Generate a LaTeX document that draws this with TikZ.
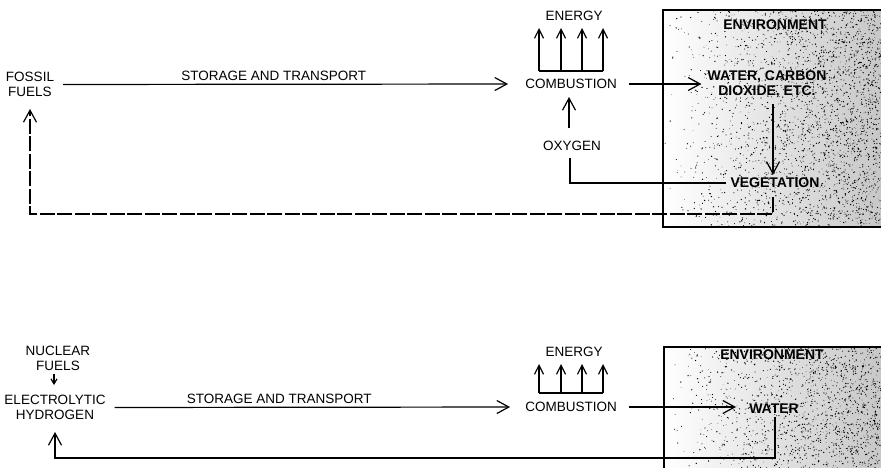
\documentclass[tikz,border=0pt]{standalone}
\usepackage{fontspec}
\setmainfont{Liberation Sans}
\usetikzlibrary{arrows.meta}
\begin{document}
\begin{tikzpicture}[x=1pt,y=-1pt,
  lbl/.style={font=\fontsize{13.5}{15}\selectfont, align=center, inner sep=2pt},
  blbl/.style={font=\fontsize{14}{15}\selectfont\bfseries, align=center, inner sep=2pt},
  ln/.style={line width=1.2pt},
  arr/.style={ln, -{Straight Barb[length=12pt,width=13pt]}},
  sarr/.style={ln, -{Straight Barb[length=9pt,width=9pt]}},
  tarr/.style={ln, -{Straight Barb[length=5pt,width=6pt]}},
  dsh/.style={dash pattern=on 15pt off 2.5pt},
]
\useasboundingbox (0,0) rectangle (881,468);
\pgfmathsetseed{7}
% ---------- environment boxes (stipple) ----------
\shade[left color=white, middle color=black!4, right color=black!22] (663,10) rectangle (881,227);
\fill[black] foreach \i in {1,...,2600} { ({663+218*sqrt(rnd)},{10+217*rnd}) circle[radius={0.3+0.45*rnd}] };
\draw[ln] (881,10) -| (663,227) -- (881,227);
\shade[left color=white, middle color=black!4, right color=black!22] (664,347) rectangle (881,468);
\fill[black] foreach \i in {1,...,1500} { ({664+217*sqrt(rnd)},{347+121*rnd}) circle[radius={0.3+0.45*rnd}] };
\draw[ln] (881,347) -| (664,468);

% ---------- top diagram ----------
\node[lbl] (fossil) at (30,84.5) {FOSSIL\\FUELS};
\node[lbl] (comb1) at (571,84) {COMBUSTION};
\node[lbl] (energy1) at (574,16) {ENERGY};
\node[lbl] (oxygen) at (572,146) {OXYGEN};
\node[blbl] (env1) at (775,25) {ENVIRONMENT};
\node[blbl] (water1) at (767,84.5) {WATER, CARBON\\DIOXIDE, ETC.};
\node[blbl] (veg) at (775,183) {VEGETATION};
\coordinate (c1) at (30,214);

\draw[arr, shorten <=7pt, shorten >=15pt] (fossil.east) -- node[lbl, above=1pt, pos=0.466] (st1) {STORAGE AND TRANSPORT} (comb1.west);
\draw[ln] (539,71) -- (603,71);
\foreach \x in {539,561,582,603} \draw[sarr] (\x,71) -- (\x,28);
\draw[arr, shorten <=10pt, shorten >=4pt] (comb1.east) -- (water1.west |- comb1.east);
\draw[arr, shorten <=11pt, shorten >=6pt] (oxygen.north -| 569,0) -- (comb1.south -| 569,0);
\draw[arr, shorten <=4pt, shorten >=1pt] (water1.south -| 773,0) -- (veg.north -| 773,0);
\draw[ln, shorten <=2pt, shorten >=5pt] (veg.west) -| (oxygen.south -| 570,0);
\draw[arr, dsh, shorten <=7pt, shorten >=10pt] (veg.south -| 773,0) |- (c1) -- (fossil.south);

% ---------- bottom diagram ----------
\node[lbl] (nuclear) at (58,358.5) {NUCLEAR\\FUELS};
\node[lbl] (hydro) at (55,407.5) {ELECTROLYTIC\\HYDROGEN};
\node[lbl] (comb2) at (571,407) {COMBUSTION};
\node[lbl] (energy2) at (574,352) {ENERGY};
\node[blbl] (env2) at (772,355) {ENVIRONMENT};
\node[blbl] (water2) at (774,409) {WATER};
\coordinate (c2) at (55,458);

\draw[tarr, shorten <=1pt, shorten >=8pt] (nuclear.south -| 54,0) -- (hydro.north -| 54,0);
\draw[arr, shorten <=7pt, shorten >=13pt] (hydro.east) -- node[lbl, above=1pt, pos=0.413] (st2) {STORAGE AND TRANSPORT} (comb2.west);
\draw[ln] (539,393) -- (603,393);
\foreach \x in {539,561,582,603} \draw[sarr] (\x,393) -- (\x,364);
\draw[arr, shorten <=10pt, shorten >=11pt] (comb2.east) -- (water2.west |- comb2.east);
\draw[arr, shorten <=1pt, shorten >=10pt] (water2.south -| 775,0) |- (c2) -- (hydro.south);
\end{tikzpicture}
\end{document}
